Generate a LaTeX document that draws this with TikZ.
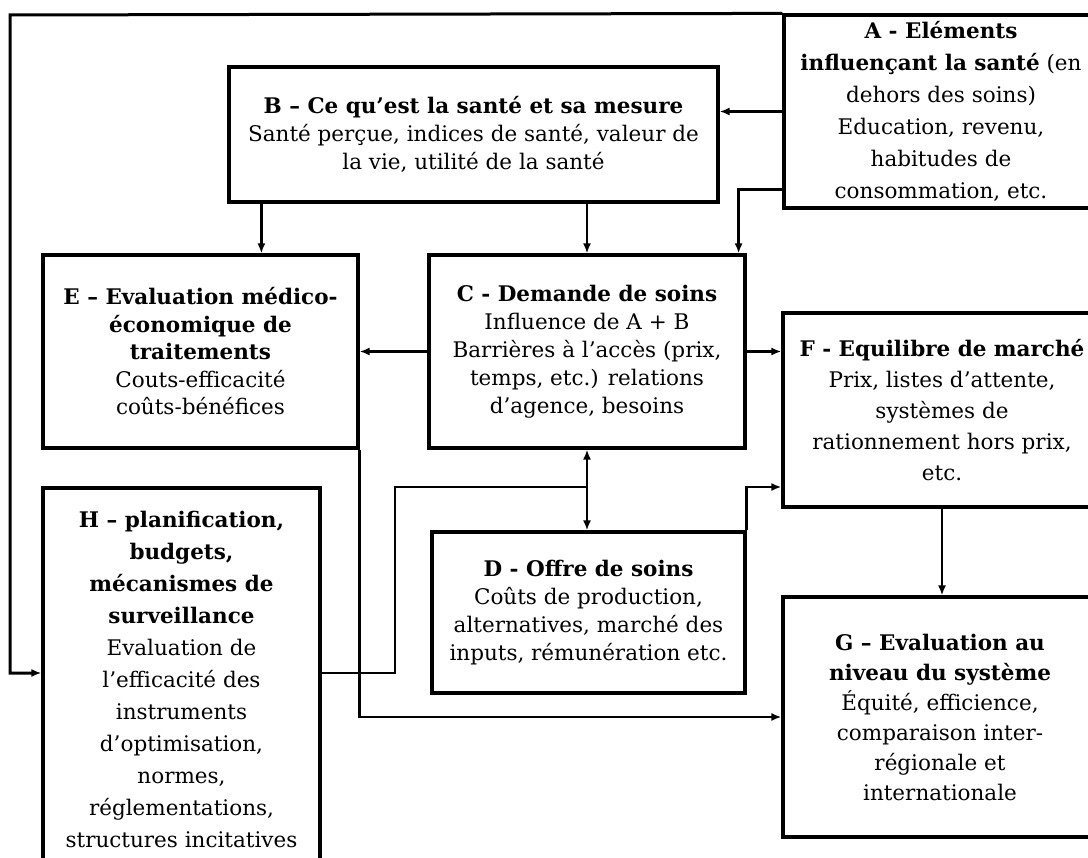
\documentclass[tikz,border=0pt]{standalone}
\usepackage{fontspec}
\setmainfont{DejaVu Serif}
\usetikzlibrary{arrows.meta}
\tikzset{
  box/.style={draw, line width=3.2pt, align=center, inner sep=2pt},
  conn/.style={line width=2.6pt, -{Latex[length=10pt,width=8pt]}},
  dconn/.style={line width=2.6pt, {Latex[length=10pt,width=8pt]}-{Latex[length=10pt,width=8pt]}},
}
\newcommand{\boxfont}[1]{\fontsize{21.5}{#1}\selectfont}

\begin{document}
\begin{tikzpicture}[x=1pt,y=-1pt]
    \useasboundingbox (0,0) rectangle (1088,858);
    \clip (0,0) rectangle (1088,858);
    \fill[white] (0,0) rectangle (1088,858);

    % A - elements (top right)
    \node[box, font=\boxfont{32}, minimum width=314pt, minimum height=193pt] (A) at (941,111.5)
        {\textbf{A - Eléments}\\ \textbf{influençant la santé} (en\\ dehors des soins)\\
         Education, revenu,\\ habitudes de\\ consommation, etc.};

    % B - sante
    \node[box, font=\boxfont{28}, minimum width=489pt, minimum height=135pt] (B) at (473.5,134.5)
        {\textbf{B – Ce qu’est la santé et sa mesure}\\ Santé perçue, indices de santé, valeur de\\ la vie, utilité de la santé};

    % E and C
    \node[box, font=\boxfont{27.5}, minimum width=315pt, minimum height=193pt] (E) at (200.5,351.5)
        {\textbf{E – Evaluation médico-}\\ \textbf{économique de}\\ \textbf{traitements}\\ Couts-efficacité\\ coûts-bénéfices};
    \node[box, font=\boxfont{28}, minimum width=316pt, minimum height=193pt] (C) at (587,351.5)
        {\textbf{C - Demande de soins}\\ Influence de A + B\\ Barrières à l’accès (prix,\\ temps, etc.) relations\\ d’agence, besoins};

    % F - marche
    \node[box, font=\boxfont{31}, minimum width=318pt, minimum height=194pt] (F) at (942,410)
        {\textbf{F - Equilibre de marché}\\ Prix, listes d’attente,\\ systèmes de\\ rationnement hors prix,\\ etc.};

    % H, D and G
    \node[box, font=\boxfont{32}, minimum width=277pt, minimum height=382pt] (H) at (181.5,679)
        {\textbf{H – planification,}\\ \textbf{budgets,}\\ \textbf{mécanismes de}\\ \textbf{surveillance}\\
         Evaluation de\\ l’efficacité des\\ instruments\\ d’optimisation,\\ normes,\\ réglementations,\\ structures incitatives};
    \node[box, font=\boxfont{28}, minimum width=313pt, minimum height=161pt] (D) at (588.5,612.5)
        {\textbf{D - Offre de soins}\\ Coûts de production,\\ alternatives, marché des\\ inputs, rémunération etc.};
    \node[box, font=\boxfont{30}, minimum width=314pt, minimum height=240pt] (G) at (940,717)
        {\textbf{G – Evaluation au}\\ \textbf{niveau du système}\\ Équité, efficience,\\ comparaison inter-\\ régionale et\\ internationale};

    % arrows from A and B
    \draw[conn] (A.west) -- (A.west -| B.east);
    \draw[conn] ([yshift=20pt]A.south west) -| ([xshift=-8pt]C.north east);
    \draw[conn] ([xshift=34pt]B.south west) -- ([xshift=34pt]B.south west |- E.north);
    \draw[conn] (B.south -| C.north) -- (C.north);

    % arrows from C, D, E, F
    \draw[conn] (C.west) -- (E.east);
    \draw[conn] (C.east) -- (C.east -| F.west);
    \draw[dconn] (C.south) -- (C.south |- D.north);
    \draw[conn] (D.north east) |- ([yshift=-77pt]F.west);
    \draw[conn] (F.south) -- (F.south |- G.north);
    \draw[conn] (E.south east) |- (G.west);

    % H joins the C-D link
    \coordinate (hbend) at (395,487);
    \coordinate (hjoin) at (C.south |- hbend);
    \draw[line width=2.6pt] ([yshift=6pt]H.east) -| (hbend) -- (hjoin);

    % outer frame from A to H
    \coordinate (frame) at (10,15);
    \draw[conn, line width=3pt] (A.north west) -- (frame) |- ([yshift=6pt]H.west);
\end{tikzpicture}
\end{document}
